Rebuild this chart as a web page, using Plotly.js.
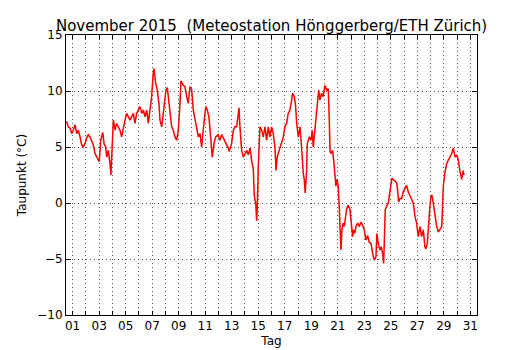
<!DOCTYPE html>
<html>
<head>
<meta charset="utf-8">
<script src="https://cdn.plot.ly/plotly-3.0.1.min.js"></script>
<style>html,body{margin:0;padding:0;background:#fff;}#chart{width:530px;height:350px;}</style>
</head>
<body>
<div id="chart"></div>
<script>
// Day-of-month axis position (tick "01" = centre of 1 November)
const day = [0.55,0.67,0.80,0.93,1.05,1.18,1.31,1.43,1.56,1.68,1.80,1.93,2.06,2.18,2.31,2.44,2.56,2.69,2.82,2.94,
3.01,3.12,3.27,3.37,3.49,3.57,3.69,3.82,3.89,3.97,4.07,4.20,4.32,4.44,4.57,4.70,4.82,4.95,5.08,5.33,
5.58,5.70,5.83,6.08,6.21,6.33,6.46,6.59,6.71,6.83,6.96,7.08,7.14,7.26,7.38,7.51,7.59,7.72,7.84,8.04,
8.14,8.21,8.34,8.47,8.59,8.72,8.85,8.97,9.10,9.17,9.35,9.47,9.60,9.72,9.85,9.98,10.10,10.23,10.36,10.48,
10.61,10.73,10.85,11.04,11.16,11.28,11.41,11.53,11.66,11.79,11.98,12.11,12.24,12.36,12.49,12.62,12.74,12.81,12.99,13.12,
13.24,13.37,13.49,13.55,13.62,13.75,13.87,14.00,14.13,14.25,14.38,14.50,14.63,14.70,14.81,14.88,14.93,15.00,15.13,15.26,
15.38,15.51,15.64,15.76,15.88,16.01,16.13,16.26,16.34,16.43,16.59,16.77,16.89,17.01,17.14,17.26,17.39,17.52,17.59,17.72,
17.82,17.90,18.02,18.15,18.22,18.32,18.39,18.47,18.54,18.65,18.70,18.85,18.98,19.07,19.15,19.28,19.35,19.45,19.56,19.65,
19.78,19.90,20.03,20.16,20.28,20.36,20.41,20.48,20.61,20.69,20.78,20.86,20.94,21.03,21.11,21.19,21.24,21.31,21.41,21.49,
21.56,21.67,21.79,21.92,21.99,22.12,22.20,22.29,22.37,22.50,22.62,22.75,22.87,23.00,23.12,23.25,23.37,23.50,23.63,23.75,
23.88,23.95,24.05,24.18,24.28,24.38,24.46,24.53,24.58,24.68,24.81,24.88,24.99,25.08,25.18,25.31,25.44,25.51,25.59,25.69,
25.82,25.94,26.07,26.19,26.31,26.44,26.57,26.69,26.82,26.95,27.07,27.20,27.32,27.45,27.57,27.65,27.75,27.85,27.95,28.03,
28.10,28.20,28.33,28.46,28.58,28.71,28.84,28.91,28.96,29.08,29.21,29.33,29.46,29.59,29.71,29.84,29.97,30.09,30.21,30.34,
30.46,30.51];

// Dew point in °C
const taupunkt = [7.3,6.8,6.7,6.2,6.5,7.0,6.2,6.5,5.9,5.2,5.0,5.3,5.8,6.1,5.9,5.6,5.2,4.4,4.1,3.8,
3.7,5.6,6.3,5.3,5.0,4.1,4.7,3.5,2.5,4.7,7.4,6.5,7.1,6.8,6.5,5.9,6.8,7.4,8.0,7.4,
8.0,7.1,8.0,8.6,8.0,8.3,7.7,8.3,7.1,8.3,9.5,11.6,12.0,10.7,10.1,8.9,7.4,6.8,8.0,10.1,
10.3,9.5,7.7,6.8,6.5,5.9,5.6,6.5,8.9,10.9,10.5,10.4,9.5,8.9,10.4,10.1,8.3,7.4,6.8,5.9,
6.2,5.0,6.5,8.6,8.3,7.7,5.9,4.1,5.3,5.9,6.1,5.6,6.1,5.8,5.6,5.3,4.9,4.6,5.3,6.5,
6.8,6.8,7.7,8.5,6.8,4.7,4.1,4.4,4.7,4.3,4.9,3.8,3.0,0.6,0.0,-1.6,-0.3,3.2,6.8,6.5,
5.9,6.8,5.6,6.8,5.9,6.8,6.2,5.0,2.9,4.1,4.7,5.3,5.9,6.8,7.1,8.0,8.3,9.2,9.8,9.5,
8.6,7.1,5.9,6.8,5.9,4.1,2.7,2.1,0.9,2.9,5.3,5.9,5.6,6.5,5.0,6.5,7.7,8.9,10.1,9.2,
9.8,9.5,10.5,10.1,10.2,7.4,4.7,4.4,4.7,3.8,2.2,1.5,2.1,1.5,-0.3,-2.4,-4.2,-2.4,-1.8,-2.1,
-1.2,-0.5,-0.2,-0.6,-1.5,-3.0,-2.4,-2.7,-2.1,-1.8,-2.1,-1.7,-2.0,-2.4,-3.3,-2.9,-3.5,-3.6,-4.5,-5.1,
-4.8,-2.7,-3.6,-4.2,-3.9,-4.5,-5.4,-2.4,-0.6,-0.3,0.0,0.6,1.5,2.2,2.1,1.9,1.8,1.2,0.1,0.4,
0.4,1.0,1.3,1.6,1.0,0.6,0.3,0.0,-1.2,-1.8,-3.0,-2.1,-3.0,-2.4,-3.9,-4.1,-3.6,-1.5,-0.3,0.6,
0.7,0.0,-1.2,-2.1,-2.6,-2.4,-2.1,0.0,1.5,2.7,3.5,3.8,4.1,4.4,4.9,4.1,4.3,3.8,2.9,2.1,
2.9,2.5];

const xTickVals = [];
const xTickText = [];
for (let d = 1; d <= 31; d++) {
  xTickVals.push(d);
  xTickText.push(d % 2 === 1 ? String(d).padStart(2, '0') : '');
}
const yTickVals = [-10, -5, 0, 5, 10, 15];
const yTickText = ['\u221210', '\u22125', '0', '5', '10', '15'];

const trace = {
  x: day, y: taupunkt, type: 'scatter', mode: 'lines',
  line: {color: '#ff0000', width: 1.5},
  hoverinfo: 'skip'
};

const font = {family: 'DejaVu Sans, sans-serif', size: 12, color: '#000'};

const layout = {
  width: 530, height: 350,
  margin: {l: 66, r: 53, t: 35, b: 35, pad: 0},
  paper_bgcolor: '#fff', plot_bgcolor: '#fff',
  font: font,
  showlegend: false,
  title: {
    text: 'November 2015\u00a0\u00a0(Meteostation Hönggerberg/ETH Zürich)',
    font: {family: 'DejaVu Sans, sans-serif', size: 15, color: '#000'},
    x: 0.5124, xanchor: 'center', y: 0.927, yanchor: 'middle'
  },
  xaxis: {
    range: [0.5, 31.5], tickmode: 'array', tickvals: xTickVals, ticktext: xTickText,
    ticks: 'inside', ticklen: 4, tickwidth: 1, tickcolor: '#000',
    showline: true, linecolor: '#000', linewidth: 1, mirror: 'ticks',
    showgrid: true, gridcolor: '#555', gridwidth: 1, griddash: '1px,3px',
    zeroline: false, tickfont: font,
    title: {text: 'Tag', font: font, standoff: 4}
  },
  yaxis: {
    range: [-10, 15], tickmode: 'array', tickvals: yTickVals, ticktext: yTickText,
    ticks: 'inside', ticklen: 5, tickwidth: 1, tickcolor: '#000',
    showline: true, linecolor: '#000', linewidth: 1, mirror: 'ticks',
    showgrid: true, gridcolor: '#555', gridwidth: 1, griddash: '1px,3px',
    zeroline: false, tickfont: font,
    title: {text: 'Taupunkt (°C)', font: font, standoff: 8}
  }
};

Plotly.newPlot('chart', [trace], layout, {staticPlot: true, displayModeBar: false});
</script>
</body>
</html>
